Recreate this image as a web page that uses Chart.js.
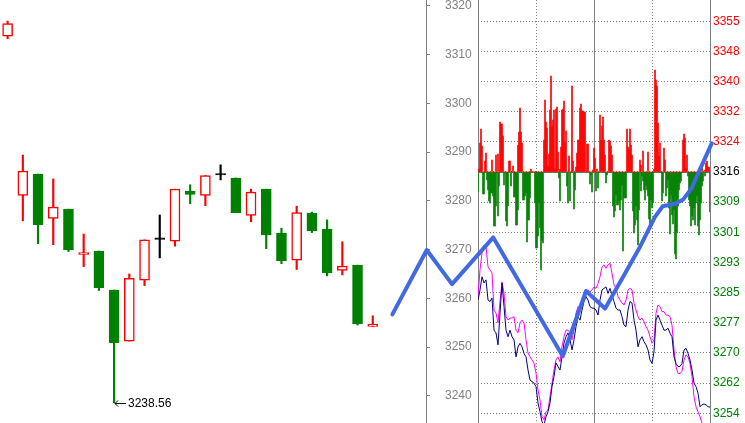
<!DOCTYPE html>
<html>
<head>
<meta charset="utf-8">
<script src="https://cdn.jsdelivr.net/npm/chart.js@4.4.1/dist/chart.umd.min.js"></script>
<style>
  html, body { margin: 0; padding: 0; background: #fff; }
  #wrap { position: relative; width: 745px; height: 423px; overflow: hidden; }
  #wrap canvas { position: absolute; left: 0; top: 0; }
</style>
</head>
<body>
<div id="wrap">
  <canvas id="candles" width="745" height="423"></canvas>
  <canvas id="intraday" width="745" height="423"></canvas>
  <canvas id="trend" width="745" height="423"></canvas>
</div>
<script>
// daily candles
const open  = [3313.8, 3281.1, 3285.5, 3276.4, 3278.3, 3269.0, 3269.7, 3261.7, 3251.2, 3263.7, 3272.1, 3271.7, 3282.0,
               3281.1, 3285.3, 3284.7, 3277.0, 3282.4, 3273.4, 3267.8, 3277.5, 3274.2, 3265.7, 3266.8, 3254.2]
const high  = [3316.9, 3289.4, 3285.5, 3284.5, 3278.3, 3273.2, 3269.7, 3261.7, 3265.0, 3272.0, 3277.1, 3282.4, 3283.3,
               3285.2, 3287.4, 3284.7, 3282.4, 3282.4, 3274.4, 3278.9, 3277.7, 3276.1, 3271.6, 3266.8, 3256.4]
const low   = [3313.3, 3275.9, 3271.2, 3271.0, 3269.6, 3266.5, 3261.6, 3238.56, 3251.2, 3262.6, 3268.3, 3270.7, 3279.4,
               3279.0, 3284.3, 3277.6, 3275.7, 3270.2, 3267.1, 3265.9, 3273.5, 3264.6, 3264.8, 3254.5, 3254.2]
const close = [3316.4, 3286.1, 3275.1, 3278.7, 3270.0, 3269.4, 3262.2, 3250.9, 3264.1, 3272.0, 3272.1, 3282.4, 3281.3,
               3285.2, 3285.3, 3277.6, 3281.8, 3273.0, 3267.7, 3277.6, 3273.9, 3265.2, 3266.6, 3254.8, 3254.7]
const daySlots = 28

// thick blue trend line (day index, price)
const trendX = [25.29, 27.55, 29.21, 31.92, 36.49, 38.02, 39.27, 40.58, 41.57, 42.55, 43.06, 43.87, 44.41, 44.96, 45.29, 45.73, 46.28]
const trendY = [3256.7, 3269.9, 3262.9, 3272.5, 3248.1, 3261.5, 3257.9, 3265.1, 3270.6, 3276.7, 3278.9, 3279.4, 3280.3,
                3282.6, 3285.0, 3288.0, 3291.8]

// intraday right axis
const priceTicks = ['3355', '3348', '3340', '3332', '3324', '3316', '3309', '3301', '3293', '3285', '3277', '3270', '3262', '3254']
const prevClose = 3316.3
const tickStep = 7.8

// intraday buy / sell bars, one per minute slot
const buyBars = [
  0,3,29,43,26,0,0,11,19,0, 0,0,0,0,12,0,0,0,17,0, 18,0,50,48,48,36,0,0,0,0, 0,11,11,0,0,6,0,0,0,0,
  27,40,64,40,29,0,0,0,0,0, 0,0,0,3,0,0,0,0,0,0, 0,0,0,0,0,0,32,72,50,44, 6,18,62,96,46,52,62,3,63,65,
  20,0,3,25,62,63,71,29,41,0, 0,16,0,0,86,11,0,0,5,19, 32,32,64,68,61,61,60,60,0,28, 28,0,0,0,0,2,24,14,0,3,
  0,0,57,32,46,55,32,17,0,0, 0,32,31,26,17,0,0,0,0,0, 0,0,0,0,0,0,0,0,0,43, 25,23,43,27,17,0,0,0,0,0,
  0,0,12,7,0,21,0,0,0,0, 20,0,0,0,0,0,3,102,92,86, 49,16,29,0,0,0,24,12,0,0, 0,0,0,0,0,0,0,0,0,0,
  0,0,0,0,0,32,38,34,4,17, 0,0,0,0,0,0,0,0,0,0, 0,0,0,0,4,0,0,2,9,11, 5,5,0
]
const sellBars = [
  20,0,0,0,0,22,22,0,0,8, 18,29,31,21,21,24,54,54,34,0, 44,14,0,0,0,0,13,0,49,54, 34,0,0,14,0,0,25,25,53,53,
  38,0,0,0,0,28,28,24,21,70, 48,48,26,0,0,0,0,31,76,76, 64,31,56,98,68,71,0,0,0,0, 0,0,0,0,0,0,0,0,0,0,
  0,6,29,0,0,0,0,0,0,14, 31,0,29,0,0,0,37,18,0,0, 0,0,0,0,0,0,0,0,0,0, 0,0,12,3,20,0,0,0,19,0,
  16,0,0,0,0,0,0,0,11,3, 0,0,0,0,0,34,45,39,23,33, 33,29,38,28,13,79,26,26,26,0, 0,0,0,0,0,39,61,53,34,48,
  73,38,0,19,4,9,18,28,14,18, 24,47,56,28,36,31,0,0,0,0, 0,0,0,0,29,21,0,0,24,16, 8,36,62,23,43,52,38,82,87,61,
  34,18,11,9,0,0,0,0,0,0, 4,28,34,54,44,48,36,53,31,24, 54,63,48,31,14,9,0,4,0,0, 0,0,40
]

// intraday price (navy) and average (magenta), every second minute slot
const intradayPrice = [
  3283.2, 3285.8, 3289.2, 3287.6, 3288.4, 3283.2, 3282.8, 3283.7, 3275.4, 3274.7,
  3271.6, 3279.8, 3287.6, 3281.5, 3275.4, 3273.7, 3275.4, 3273.7, 3272.9, 3268.5,
  3271.1, 3272.0, 3271.1, 3269.4, 3268.5, 3265.1, 3262.5, 3262.1, 3261.7, 3260.8,
  3256.6, 3254.3, 3251.7, 3250.9, 3253.0, 3254.3, 3256.6, 3260.8, 3263.4, 3266.9,
  3266.0, 3265.1, 3268.5, 3272.1, 3273.7, 3274.7, 3272.9, 3270.3, 3272.9, 3276.3,
  3278.9, 3278.0, 3280.6, 3282.8, 3284.1, 3283.2, 3281.5, 3281.1,
  3281.1, 3280.6, 3279.3, 3283.2, 3285.8, 3286.2, 3286.6, 3284.9, 3286.2, 3284.5,
  3282.8, 3281.1, 3280.6, 3280.6, 3278.9, 3276.7, 3276.3, 3280.6, 3282.8, 3282.4,
  3278.0, 3275.4, 3271.1, 3272.9, 3273.7, 3272.4, 3271.6, 3270.3, 3267.7, 3266.8,
  3269.8, 3278.0, 3279.3, 3278.0, 3276.7, 3275.4, 3275.4, 3275.9, 3274.6, 3273.7,
  3268.5, 3266.8, 3266.0, 3266.0, 3266.8, 3270.3, 3270.7, 3269.4, 3267.7, 3265.1,
  3261.7, 3260.8, 3259.1, 3255.6, 3256.1, 3256.3, 3256.1, 3255.6, 3255.5
]
const intradayAvg = [
  3284.1, 3291.0, 3295.4, 3297.4, 3297.0, 3291.8, 3291.0, 3290.2, 3280.6, 3279.8,
  3277.3, 3282.8, 3287.9, 3285.0, 3278.9, 3278.0, 3278.5, 3278.5, 3278.9, 3275.4,
  3274.7, 3277.3, 3278.0, 3277.3, 3272.9, 3269.5, 3268.5, 3267.7, 3266.9, 3264.3,
  3259.9, 3257.3, 3253.0, 3252.2, 3254.3, 3254.8, 3258.2, 3261.7, 3265.1, 3267.7,
  3268.5, 3267.2, 3271.1, 3273.7, 3275.4, 3275.4, 3274.7, 3272.9, 3275.4, 3279.8,
  3281.5, 3280.6, 3282.4, 3284.1, 3285.3, 3285.8, 3285.3, 3285.8,
  3286.6, 3286.2, 3287.5, 3289.2, 3291.8, 3292.3, 3291.4, 3292.3, 3292.7, 3290.1,
  3287.1, 3286.2, 3284.1, 3283.2, 3282.4, 3281.9, 3283.2, 3285.8, 3286.2, 3285.8,
  3282.4, 3280.6, 3278.9, 3278.0, 3278.5, 3277.6, 3276.3, 3275.4, 3273.7, 3272.0,
  3272.9, 3279.8, 3281.9, 3281.5, 3280.2, 3280.2, 3279.3, 3279.3, 3278.9, 3276.7,
  3270.3, 3266.0, 3264.2, 3264.2, 3264.7, 3267.7, 3269.0, 3268.5, 3266.8, 3263.4,
  3258.2, 3255.6, 3254.3, 3253.0, 3251.4, 3250.6, 3250.0, 3249.4, 3248.8
]

const RED = "#ff0000"
const GREEN = "#008000"
const GRAY = "#808080"
const dayMin = 3234.40
const dayMax = 3321.23

Chart.defaults.font.family = 'Arial, "Liberation Sans", sans-serif'
Chart.defaults.font.size = 12

const trendOf = i => close[i] > open[i] ? "up" : close[i] < open[i] ? "down" : "flat"
const bodyFill = { up: "#ffffff", down: GREEN, flat: "#000000" }
const lineColor = { up: RED, down: GREEN, flat: "#000000" }

// arrow + value at the lowest low
const lowLabel = {
  id: "lowLabel",
  afterDatasetsDraw(chart) {
    const { ctx, scales: { x, y } } = chart
    const i = low.indexOf(Math.min(...low))
    const px = Math.round(x.getPixelForValue(i))
    const py = Math.round(y.getPixelForValue(low[i]))
    ctx.save()
    ctx.strokeStyle = "#000"
    ctx.lineWidth = 1
    ctx.beginPath()
    ctx.moveTo(px + 1, py + 0.5)
    ctx.lineTo(px + 12, py + 0.5)
    ctx.moveTo(px + 4, py - 2.5)
    ctx.lineTo(px + 1, py + 0.5)
    ctx.lineTo(px + 4, py + 3.5)
    ctx.stroke()
    ctx.fillStyle = "#000"
    ctx.font = '12px Arial, "Liberation Sans", sans-serif'
    ctx.textBaseline = "middle"
    ctx.fillText(low[i].toFixed(2), px + 14, py + 1)
    ctx.restore()
  }
}

new Chart(document.getElementById("candles"), {
  type: "bar",
  data: {
    labels: Array.from({ length: daySlots }, (_, i) => i < open.length ? String(i + 1) : ""),
    datasets: [
      {
        data: open.map((o, i) => [o, close[i]]),
        backgroundColor: open.map((_, i) => bodyFill[trendOf(i)]),
        borderColor: open.map((_, i) => lineColor[trendOf(i)]),
        borderWidth: 1.5,
        borderSkipped: false,
        barThickness: 10,
        minBarLength: 1.5,
        grouped: false
      },
      {
        data: low.map((l, i) => [l, high[i]]),
        backgroundColor: open.map((_, i) => lineColor[trendOf(i)]),
        barThickness: 1.5,
        grouped: false
      }
    ]
  },
  options: {
    responsive: false,
    animation: false,
    layout: { padding: { right: 267 } },
    plugins: { legend: { display: false }, tooltip: { enabled: false } },
    scales: {
      x: { type: "category", offset: true, display: false },
      y: {
        position: "right",
        min: dayMin,
        max: dayMax,
        ticks: { stepSize: 10, includeBounds: false, color: GRAY, padding: 15, callback: v => String(v) },
        grid: { drawOnChartArea: false, drawTicks: true, tickLength: 4, color: GRAY },
        border: { color: GRAY, width: 1 },
        afterFit(s) { s.width = 52; s.paddingTop = 0; s.paddingBottom = 0 }
      }
    }
  },
  plugins: [lowLabel]
})

new Chart(document.getElementById("intraday"), {
  type: "bar",
  data: {
    datasets: [
      {
        type: "line",
        data: intradayPrice.map((v, i) => ({ x: i, y: v })),
        xAxisID: "xl", yAxisID: "yp",
        borderColor: "#000080", borderWidth: 1, pointRadius: 0, tension: 0
      },
      {
        type: "line",
        data: intradayAvg.map((v, i) => ({ x: i, y: v })),
        xAxisID: "xl", yAxisID: "yp",
        borderColor: "#ff00ff", borderWidth: 1, pointRadius: 0, tension: 0
      },
      {
        data: buyBars.map((v, i) => ({ x: i, y: v })),
        xAxisID: "xb", yAxisID: "yd",
        backgroundColor: RED, barThickness: 1, grouped: false
      },
      {
        data: sellBars.map((v, i) => ({ x: i, y: -v })),
        xAxisID: "xb", yAxisID: "yd",
        backgroundColor: GREEN, barThickness: 1, grouped: false
      }
    ]
  },
  options: {
    responsive: false,
    animation: false,
    layout: { padding: { left: 478 } },
    plugins: { legend: { display: false }, tooltip: { enabled: false } },
    scales: {
      xb: {
        type: "linear", position: "bottom", min: 0, max: buyBars.length - 1, offset: false,
        ticks: { display: false, stepSize: (buyBars.length - 1) / 4 },
        grid: { offset: false, drawTicks: false, color: GRAY },
        border: { display: false, dash: [1, 2] }
      },
      xl: {
        type: "linear", position: "bottom", min: 0, max: intradayPrice.length - 1, offset: false,
        ticks: { display: false, stepSize: (intradayPrice.length - 1) / 2 },
        grid: { offset: false, drawTicks: false, color: GRAY },
        border: { display: false }
      },
      yp: {
        type: "linear", position: "right",
        min: prevClose - 64.91, max: prevClose + 44.48,
        afterBuildTicks(s) {
          s.ticks = priceTicks.map((_, i) => ({ value: prevClose + (priceTicks.indexOf("3316") - i) * tickStep }))
        },
        ticks: {
          padding: 3,
          callback: (v, i) => priceTicks[i],
          color: ctx => {
            const mid = priceTicks.indexOf("3316")
            return ctx.index < mid ? RED : ctx.index === mid ? "#000000" : GREEN
          }
        },
        grid: { drawTicks: false, color: GRAY },
        border: { display: false, dash: [1, 2] },
        afterFit(s) { s.width = 35; s.paddingTop = 0; s.paddingBottom = 0 }
      },
      yd: {
        type: "linear", position: "left", min: -251, max: 172,
        afterBuildTicks(s) { s.ticks = [{ value: 0 }] },
        ticks: { display: false },
        grid: { drawTicks: false, color: GRAY },
        border: { display: false },
        afterFit(s) { s.width = 0; s.paddingTop = 0; s.paddingBottom = 0 }
      }
    }
  }
})

new Chart(document.getElementById("trend"), {
  type: "line",
  data: {
    datasets: [{
      data: trendX.map((x, i) => ({ x, y: trendY[i] })),
      borderColor: "#4169e1",
      borderWidth: 4,
      borderJoinStyle: "round",
      borderCapStyle: "round",
      pointRadius: 0,
      tension: 0
    }]
  },
  options: {
    responsive: false,
    animation: false,
    plugins: { legend: { display: false }, tooltip: { enabled: false } },
    scales: {
      x: { type: "linear", display: false, min: -0.5, max: 745 / (426 / daySlots) - 0.5 },
      y: { display: false, min: dayMin, max: dayMax }
    }
  }
})
</script>
</body>
</html>
